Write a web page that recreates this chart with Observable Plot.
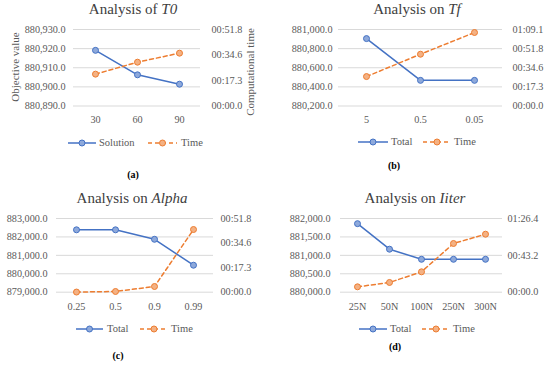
<!DOCTYPE html>
<html><head><meta charset="utf-8">
<script src="https://cdn.jsdelivr.net/npm/d3@7"></script>
<script src="https://cdn.jsdelivr.net/npm/@observablehq/plot@0.6"></script>
<style>
html,body{margin:0;padding:0;background:#fff;}
#root{position:relative;width:550px;height:366px;overflow:hidden;font-family:"Liberation Serif",serif;color:#595959;}
#root svg text{font-family:"Liberation Serif",serif !important;font-size:10.2px;}
.abs{position:absolute;white-space:nowrap;line-height:1;}
.title{font-size:15px;color:#404040;transform:translate(-50%,-50%);}
.cap{font-size:10px;font-weight:bold;color:#000;transform:translate(-50%,-50%);}
.ax{font-size:11px;color:#595959;transform:translate(-50%,-50%) rotate(-90deg);}
.leg{font-size:10.5px;color:#595959;transform:translateY(-50%);}
svg.sw{position:absolute;overflow:visible;}
</style></head><body><div id="root"></div>
<script>
// ---------- data ----------
// (a) Analysis of T0
const A_param = ["30", "60", "90"];
const A_solution = [880919.1, 880906.3, 880901.4];
const A_time = [21.6, 29.7, 35.8];            // seconds
const A_leftTicks = [880890, 880900, 880910, 880920, 880930];
const A_timeTicks = [0, 17.28, 34.56, 51.84];  // 00:00.0 .. 00:51.8

// (b) Analysis on Tf
const B_param = ["5", "0.5", "0.05"];
const B_total = [880905, 880468, 880468];
const B_time = [26.6, 46.8, 66.4];
const B_leftTicks = [880200, 880400, 880600, 880800, 881000];
const B_timeTicks = [0, 17.28, 34.56, 51.84, 69.12];

// (c) Analysis on Alpha
const C_param = ["0.25", "0.5", "0.9", "0.99"];
const C_total = [882386, 882386, 881872, 880465];
const C_time = [0.1, 0.5, 4.0, 44.1];
const C_leftTicks = [879000, 880000, 881000, 882000, 883000];
const C_timeTicks = [0, 17.28, 34.56, 51.84];

// (d) Analysis on Iiter
const D_param = ["25N", "50N", "100N", "250N", "300N"];
const D_total = [881860, 881167, 880893, 880893, 880893];
const D_time = [6.3, 11.4, 23.9, 57.1, 68.0];
const D_leftTicks = [880000, 880500, 881000, 881500, 882000];
const D_timeTicks = [0, 43.2, 86.4];

const BLUE = "#4472C4", BLUE_F = "#8EA9DB", ORANGE = "#ED7D31", ORANGE_F = "#F4B183";

function fmtTime(s) {
  const m = Math.floor(s / 60 + 1e-9);
  const r = s - m * 60;
  return String(m).padStart(2, "0") + ":" + (r < 10 ? "0" : "") + r.toFixed(1);
}

const root = document.getElementById("root");
function addDiv(cls, html, x, y) {
  const d = document.createElement("div");
  d.className = "abs " + cls;
  d.innerHTML = html;
  d.style.left = x + "px";
  d.style.top = y + "px";
  root.appendChild(d);
  return d;
}
function legendItem(x1, x2, y, dashed, stroke, fill, label, tx) {
  const ns = "http://www.w3.org/2000/svg";
  const s = document.createElementNS(ns, "svg");
  s.setAttribute("class", "sw");
  s.setAttribute("width", x2 - x1);
  s.setAttribute("height", 10);
  s.style.left = x1 + "px";
  s.style.top = (y - 5) + "px";
  const w = x2 - x1;
  s.innerHTML = `<line x1="0" y1="5" x2="${w}" y2="5" stroke="${stroke}" stroke-width="1.5" ${dashed ? 'stroke-dasharray="4,3"' : ''}/>` +
    `<circle cx="${w / 2}" cy="5" r="3" fill="${fill}" stroke="${stroke}" stroke-width="1"/>`;
  root.appendChild(s);
  addDiv("leg", label, tx, y);
}

function panel(p) {
  const lo = p.leftTicks[0], hi = p.leftTicks[p.leftTicks.length - 1];
  const tmax = p.timeTicks[p.timeTicks.length - 1];
  const toY = t => lo + t / tmax * (hi - lo);
  const fromY = y => Math.round((y - lo) / (hi - lo) * tmax * 100) / 100;
  const rows = p.cats.map((c, i) => ({c, v: p.total[i], t: toY(p.time[i])}));
  const chart = Plot.plot({
    width: p.w, height: p.h,
    marginLeft: p.ml, marginRight: p.mr, marginTop: p.mt, marginBottom: p.mb,
    style: {fontFamily: "Liberation Serif", fontSize: "10.2px", color: "#595959", background: "transparent", overflow: "visible"},
    x: {type: "point", domain: p.cats, padding: 0.5, label: null},
    y: {domain: [lo, hi], label: null},
    marks: [
      Plot.gridY(p.leftTicks, {stroke: "#d9d9d9", strokeOpacity: 1, strokeWidth: 1}),
      Plot.axisY(p.leftTicks, {anchor: "left", tickSize: 0, tickPadding: p.padL, tickFormat: d3.format(",.1f"), label: null}),
      Plot.axisY(p.timeTicks.map(toY), {anchor: "right", tickSize: 0, tickPadding: p.padR, tickFormat: y => fmtTime(fromY(y)), label: null}),
      Plot.axisX({tickSize: 0, tickPadding: p.padX, label: null}),
      Plot.lineY(rows, {x: "c", y: "v", stroke: BLUE, strokeWidth: 1.5}),
      Plot.dot(rows, {x: "c", y: "v", r: 3, fill: BLUE_F, stroke: BLUE, strokeWidth: 1}),
      Plot.lineY(rows, {x: "c", y: "t", stroke: ORANGE, strokeWidth: 1.5, strokeDasharray: "4,3"}),
      Plot.dot(rows, {x: "c", y: "t", r: 3, fill: ORANGE_F, stroke: ORANGE, strokeWidth: 1})
    ]
  });
  chart.style.position = "absolute";
  chart.style.left = p.ox + "px";
  chart.style.top = p.oy + "px";
  root.appendChild(chart);
}

// (a)
panel({cats: A_param, total: A_solution, time: A_time, leftTicks: A_leftTicks, timeTicks: A_timeTicks,
  ox: 0, oy: 0, w: 275, h: 183, ml: 73, mr: 75, mt: 29, mb: 77.5, padL: 8, padR: 11, padX: 10});
addDiv("title", "Analysis of <i>T0</i>", 133, 9);
addDiv("ax", "Objective value", 15, 67);
addDiv("ax", "Computational time", 250, 72);
legendItem(68, 96, 143, false, BLUE, BLUE_F, "Solution", 99);
legendItem(148, 177, 143, true, ORANGE, ORANGE_F, "Time", 181);
addDiv("cap", "(a)", 133, 175);

// (b)
panel({cats: B_param, total: B_total, time: B_time, leftTicks: B_leftTicks, timeTicks: B_timeTicks,
  ox: 275, oy: 0, w: 275, h: 183, ml: 63, mr: 48, mt: 29, mb: 77.5, padL: 6, padR: 10, padX: 10});
addDiv("title", "Analysis on <i>Tf</i>", 417, 9);
legendItem(358, 388, 142, false, BLUE, BLUE_F, "Total", 391);
legendItem(423, 451, 142, true, ORANGE, ORANGE_F, "Time", 454);
addDiv("cap", "(b)", 394, 166);

// (c)
panel({cats: C_param, total: C_total, time: C_time, leftTicks: C_leftTicks, timeTicks: C_timeTicks,
  ox: 0, oy: 183, w: 275, h: 183, ml: 56, mr: 62, mt: 35, mb: 74.3, padL: 9, padR: 7, padX: 11});
addDiv("title", "Analysis on <i>Alpha</i>", 132, 198);
legendItem(76, 103, 328.7, false, BLUE, BLUE_F, "Total", 107);
legendItem(140, 168, 328.7, true, ORANGE, ORANGE_F, "Time", 171);
addDiv("cap", "(c)", 118, 356);

// (d)
panel({cats: D_param, total: D_total, time: D_time, leftTicks: D_leftTicks, timeTicks: D_timeTicks,
  ox: 275, oy: 183, w: 275, h: 183, ml: 65, mr: 48, mt: 35, mb: 74.3, padL: 10, padR: 5, padX: 11});
addDiv("title", "Analysis on <i>Iiter</i>", 415, 198);
legendItem(359, 387, 328.7, false, BLUE, BLUE_F, "Total", 390);
legendItem(422, 450, 328.7, true, ORANGE, ORANGE_F, "Time", 453);
addDiv("cap", "(d)", 395, 347);
</script>
</body></html>
